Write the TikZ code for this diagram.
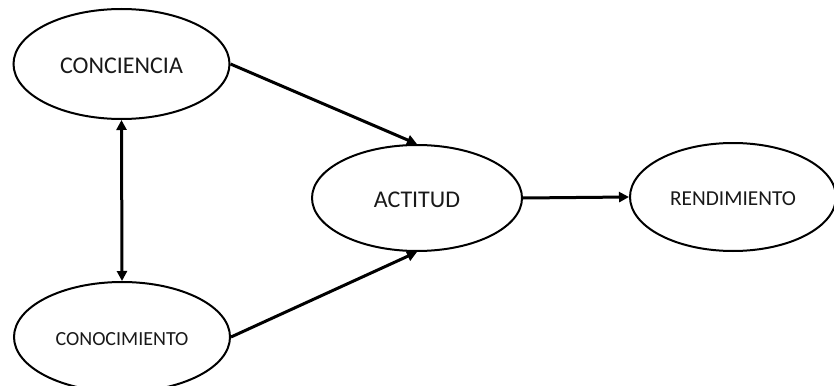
\documentclass[tikz,border=0pt]{standalone}
\usepackage{fontspec}
\setmainfont{Carlito}
\usetikzlibrary{shapes.geometric,arrows.meta}
\begin{document}
\begin{tikzpicture}[x=1pt,y=-1pt,
  concept/.style={ellipse,draw=black,line width=2pt,fill=white,inner sep=0pt,
    text=black!90,text depth=0pt},
  link/.style={line width=3pt,-{Triangle[length=10pt,width=10pt]}},
  twoway/.style={line width=3pt,{Triangle[length=10pt,width=10pt]}-{Triangle[length=10pt,width=10pt]}}]
  \useasboundingbox (0,0) rectangle (834,385);
  \begin{scope}
    \clip (0,0) rectangle (834,385);
    \node[concept,minimum width=216pt,minimum height=110pt,text height=19.5pt,
      font=\fontsize{24}{28}\selectfont]
      (con) at (121.5,64) {CONCIENCIA};
    \node[concept,minimum width=216pt,minimum height=110pt,text height=17pt,
      font=\fontsize{20}{24}\selectfont]
      (cono) at (122,337) {CONOCIMIENTO};
    \node[concept,minimum width=210pt,minimum height=106pt,text height=19.5pt,
      font=\fontsize{24}{28}\selectfont]
      (act) at (417,198) {ACTITUD};
    \node[concept,minimum width=206pt,minimum height=108pt,text height=17.7pt,
      font=\fontsize{21.3}{25}\selectfont]
      (ren) at (733,197) {RENDIMIENTO};
  \end{scope}
  \draw[link] (con.east) -- (act.north);
  \draw[link] (cono.east) -- (act.south);
  \draw[link] (act.east) -- (ren.west);
  \draw[twoway] (con.south) -- (cono.north);
\end{tikzpicture}
\end{document}
